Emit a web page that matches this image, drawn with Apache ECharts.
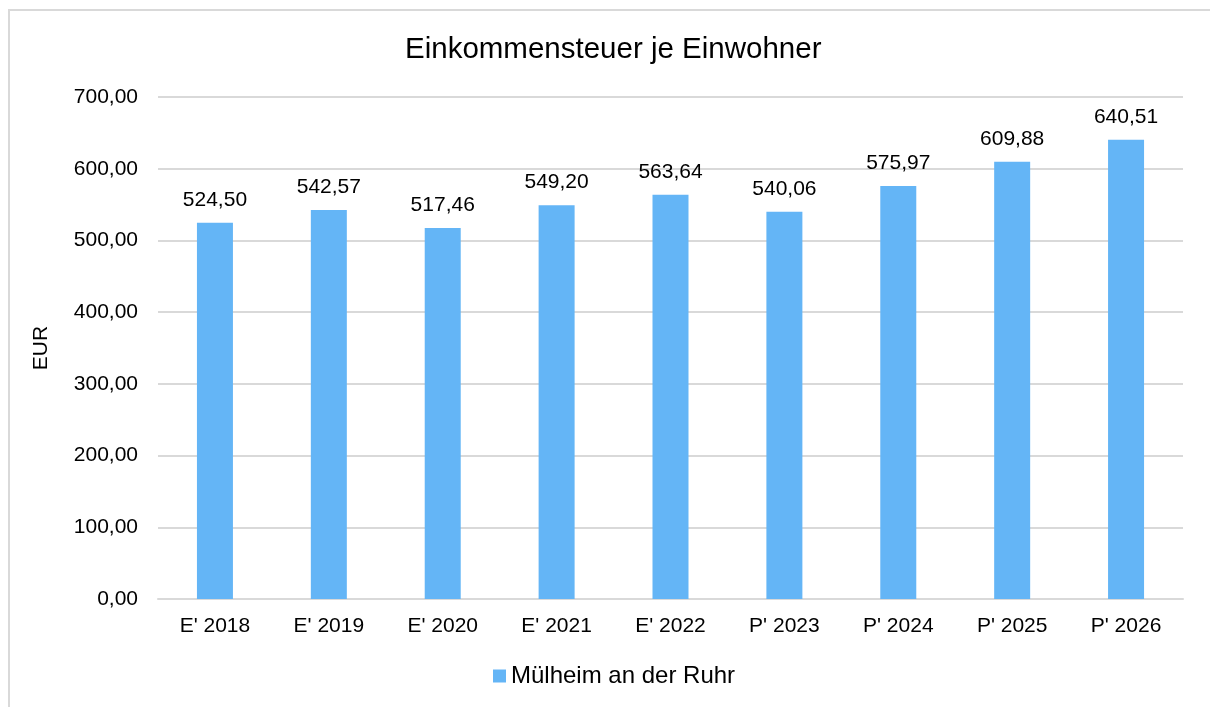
<!DOCTYPE html>
<html><head><meta charset="utf-8">
<script src="https://cdn.jsdelivr.net/npm/echarts@6/dist/echarts.min.js"></script>
<style>
html,body{margin:0;padding:0;background:#fff;}
#frame{position:absolute;left:8px;top:9px;width:1220px;height:720px;border:2px solid #d9d9d9;box-sizing:border-box;}
#c{position:absolute;left:0;top:0;width:1210px;height:707px;}
</style></head>
<body>
<div id="frame"></div>
<div id="c"></div>
<script>
const categories = ["E' 2018","E' 2019","E' 2020","E' 2021","E' 2022","P' 2023","P' 2024","P' 2025","P' 2026"];
const values = [524.50, 542.57, 517.46, 549.20, 563.64, 540.06, 575.97, 609.88, 640.51];
const seriesName = "Mülheim an der Ruhr";
const fmt = v => Number(v).toFixed(2).replace('.', ',');
const chart = echarts.init(document.getElementById('c'), null, {renderer:'canvas'});
chart.setOption({
  animation:false,
  textStyle:{fontFamily:'Liberation Sans, Arial, sans-serif'},
  title:{text:'Einkommensteuer je Einwohner',left:400,top:30,textStyle:{fontSize:29.5,fontWeight:'normal',color:'#000',fontFamily:'Liberation Sans, Arial, sans-serif'}},
  grid:{left:158,right:27,top:97,bottom:108,containLabel:false},
  legend:{bottom:14,left:488,itemWidth:13,itemHeight:13,itemGap:4,icon:'rect',
    textStyle:{fontSize:24,color:'#000',padding:[0,0,0,0]},data:[seriesName]},
  xAxis:{type:'category',data:categories,
    axisLine:{lineStyle:{color:'#d9d9d9',width:2}},axisTick:{show:false},
    axisLabel:{fontSize:21,color:'#000',margin:17}},
  yAxis:{type:'value',min:0,max:700,interval:100,name:'EUR',nameLocation:'middle',nameGap:106,nameRotate:90,
    nameTextStyle:{fontSize:21,color:'#000'},
    axisLine:{show:false},axisTick:{show:false},
    splitLine:{lineStyle:{color:'#d9d9d9',width:2}},
    axisLabel:{fontSize:21,color:'#000',margin:20,formatter:v=>fmt(v)}},
  series:[{name:seriesName,type:'bar',data:values,barWidth:36,
    itemStyle:{color:'#64B5F6'},
    label:{show:true,position:'top',distance:12,fontSize:21,color:'#000',formatter:p=>fmt(p.value)}}]
});
</script>
</body></html>
